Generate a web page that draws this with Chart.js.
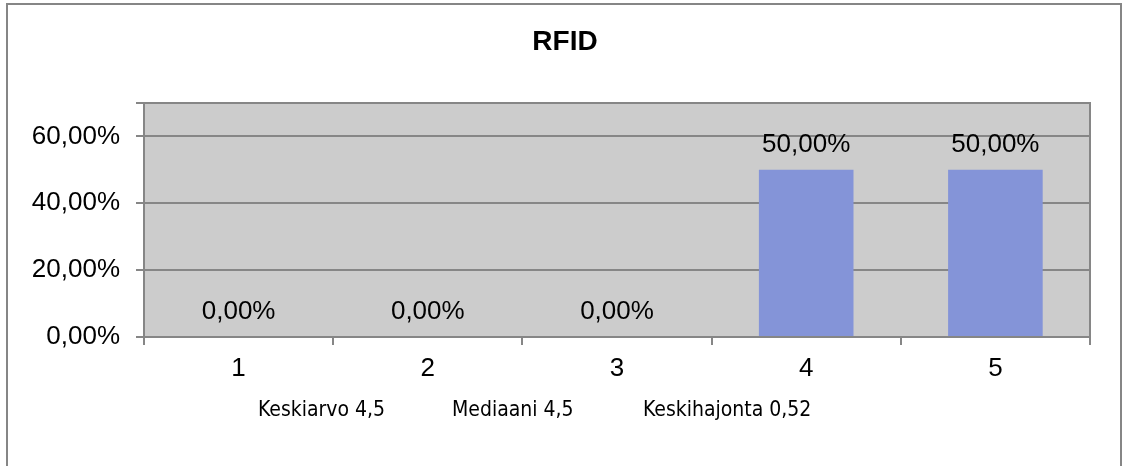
<!DOCTYPE html>
<html><head><meta charset="utf-8">
<script src="https://cdn.jsdelivr.net/npm/chart.js@4"></script>
<style>html,body{margin:0;padding:0;background:#fff}#wrap{position:relative;width:1125px;height:466px}</style>
</head><body><div id="wrap"><canvas id="c" width="1125" height="466"></canvas></div>
<script>
const title = 'RFID';
const categories = ['1', '2', '3', '4', '5'];
const values = [0, 0, 0, 50, 50];
const yTicks = [0, 20, 40, 60];
const statsTexts = ['Keskiarvo 4,5', 'Mediaani 4,5', 'Keskihajonta 0,52'];
const statsX = [258, 452, 643];

const fmt = v => v.toFixed(2).replace('.', ',') + '%';
const FONT = 'Arial, "Liberation Sans", sans-serif';

const decor = {
  id: 'decor',
  beforeDraw(chart) {
    const ctx = chart.ctx, a = chart.chartArea;
    ctx.save();
    ctx.fillStyle = '#fff';
    ctx.fillRect(0, 0, chart.width, chart.height);
    ctx.strokeStyle = '#868686';
    ctx.lineWidth = 2;
    ctx.strokeRect(7, 4, 1114, 480);
    ctx.fillStyle = '#cccccc';
    ctx.fillRect(a.left, a.top, a.right - a.left, a.bottom - a.top);
    ctx.restore();
  },
  afterDraw(chart) {
    const ctx = chart.ctx, a = chart.chartArea;
    ctx.save();
    ctx.strokeStyle = '#868686';
    ctx.lineWidth = 2;
    ctx.strokeRect(a.left, a.top, a.right - a.left, a.bottom - a.top);
    ctx.fillStyle = '#000';
    ctx.textAlign = 'center';
    ctx.textBaseline = 'middle';
    ctx.font = 'bold 28px ' + FONT;
    ctx.fillText(title, 565, 42);
    ctx.font = '26px ' + FONT;
    const meta = chart.getDatasetMeta(0);
    meta.data.forEach((bar, i) => {
      ctx.fillText(fmt(values[i]), bar.x, bar.y - 25);
    });
    ctx.textAlign = 'left';
    ctx.font = '21px "Liberation Sans Narrow", "DejaVu Sans Condensed", sans-serif';
    statsTexts.forEach((t, i) => ctx.fillText(t, statsX[i], 411));
    ctx.restore();
  }
};

new Chart(document.getElementById('c'), {
  type: 'bar',
  data: {
    labels: categories,
    datasets: [{
      data: values,
      backgroundColor: '#8494d8',
      borderWidth: 0,
      categoryPercentage: 1,
      barPercentage: 0.5
    }]
  },
  options: {
    responsive: false,
    animation: false,
    events: [],
    layout: { padding: { left: 0, right: 35, top: 103, bottom: 0 } },
    plugins: { legend: { display: false }, title: { display: false }, tooltip: { enabled: false } },
    scales: {
      x: {
        offset: true,
        grid: { offset: true, drawOnChartArea: false, drawTicks: true, tickLength: 8, color: '#868686', lineWidth: 2 },
        border: { display: false },
        ticks: { color: '#000', font: { family: FONT, size: 26 }, padding: 8, maxRotation: 0 },
        afterFit(s) { s.height = 466 - 337; }
      },
      y: {
        min: 0, max: 70,
        afterBuildTicks(s) { s.ticks = yTicks.concat([70]).map(v => ({ value: v })); },
        grid: { color: '#868686', lineWidth: 2, tickLength: 8, drawTicks: true },
        border: { display: false },
        ticks: { color: '#000', font: { family: FONT, size: 26 }, padding: 16,
          callback: v => (yTicks.includes(v) ? fmt(v) : '') },
        afterFit(s) { s.width = 144; }
      }
    }
  },
  plugins: [decor]
});
</script></body></html>
